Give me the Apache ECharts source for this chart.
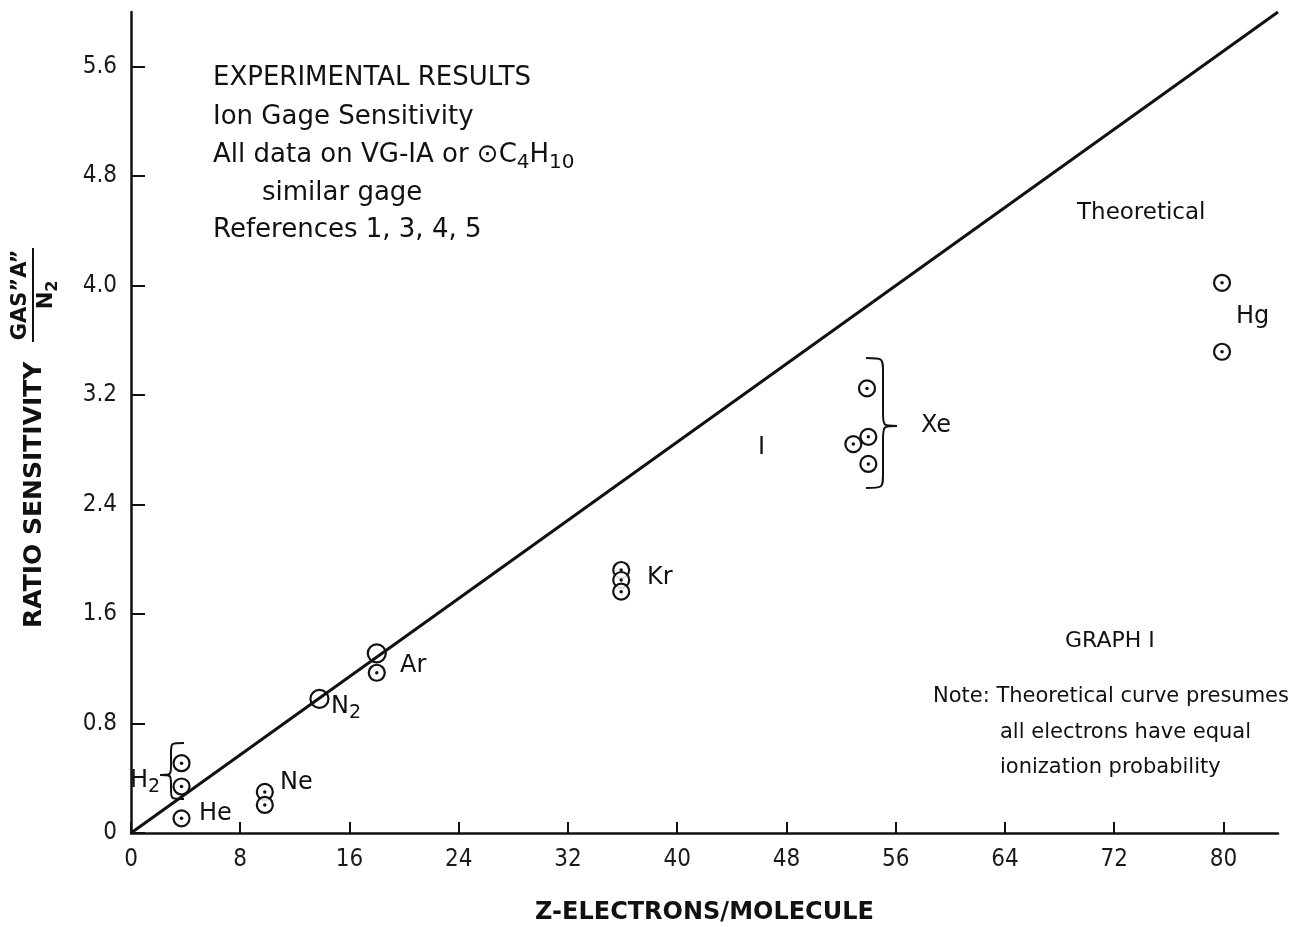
<!DOCTYPE html>
<html>
<head>
<meta charset="utf-8">
<script src="https://cdn.jsdelivr.net/npm/echarts@6/dist/echarts.min.js"></script>
<style>
  html, body { margin: 0; padding: 0; background: #fff; }
  #chart { width: 1308px; height: 927px; }
</style>
</head>
<body>
<div id="chart"></div>
<script>
// ---------- DATA ----------
const xTickValues = [0, 8, 16, 24, 32, 40, 48, 56, 64, 72, 80];
const yTickValues = [0, 0.8, 1.6, 2.4, 3.2, 4.0, 4.8, 5.6];
const yTickLabels = ['0', '0.8', '1.6', '2.4', '3.2', '4.0', '4.8', '5.6'];

// experimental points drawn as circle with centre dot
const gasH2 = [[3.7, 0.51], [3.7, 0.34]];
const gasHe = [[3.7, 0.107]];
const gasNe = [[9.8, 0.30], [9.8, 0.205]];
const gasAr = [[18.0, 1.171]];
const gasKr = [[35.9, 1.922], [35.9, 1.849], [35.9, 1.764]];
const gasXe = [[53.9, 3.249], [54.0, 2.895], [52.9, 2.842], [54.0, 2.697]];
const gasHg = [[79.9, 4.021], [79.9, 3.517]];
// experimental points drawn as plain circles
const plainPoints = [[13.8, 0.98], [18.0, 1.313]];
// theoretical line (all electrons equal ionization probability)
const theoretical = [[0, 0], [84, 6.0]];

const dotted = [].concat(gasH2, gasHe, gasNe, gasAr, gasKr, gasXe, gasHg);

// ---------- CHART ----------
const FONT = "'DejaVu Sans', Verdana, sans-serif";
const TICKFONT = "'DejaVu Sans Condensed', 'DejaVu Sans', sans-serif";
const chart = echarts.init(document.getElementById('chart'), null, { renderer: 'canvas' });

function txt(text, x, y, size) {
  return {
    type: 'text', x: x, y: y, silent: true,
    style: {
      text: text, fill: '#111', fontSize: size || 23, fontFamily: FONT,
      textAlign: 'left', textVerticalAlign: 'middle',
      align: 'left', verticalAlign: 'middle'
    }
  };
}
function richTxt(text, x, y, rich) {
  return {
    type: 'text', x: x, y: y, silent: true,
    style: { text: text, rich: rich, textAlign: 'left', textVerticalAlign: 'middle', align: 'left', verticalAlign: 'middle' }
  };
}
function mkRich(n, s, bold) {
  return {
    n: { fontSize: n, fontFamily: FONT, fontWeight: bold ? 'bold' : 'normal', lineHeight: Math.round(n * 1.35), fill: '#111', verticalAlign: 'middle' },
    s: { fontSize: s, fontFamily: FONT, fontWeight: bold ? 'bold' : 'normal', lineHeight: s, fill: '#111', verticalAlign: 'bottom' }
  };
}
// curly brace built from bezier curves and lines
function brace(xEnd, xStem, xTip, yTop, yTip, yBot, r) {
  const st = { fill: null, stroke: '#111', lineWidth: 2 };
  const b = function (x1, y1, x2, y2, cx1, cy1, cx2, cy2) {
    return { type: 'bezierCurve', silent: true, shape: { x1: x1, y1: y1, x2: x2, y2: y2, cpx1: cx1, cpy1: cy1, cpx2: cx2, cpy2: cy2 }, style: st };
  };
  const l = function (x1, y1, x2, y2) {
    return { type: 'line', silent: true, shape: { x1: x1, y1: y1, x2: x2, y2: y2 }, style: st };
  };
  return [
    b(xEnd, yTop, xStem, yTop + r, xStem, yTop, xStem, yTop),
    l(xStem, yTop + r, xStem, yTip - r),
    b(xStem, yTip - r, xTip, yTip, xStem, yTip, xStem, yTip),
    b(xTip, yTip, xStem, yTip + r, xStem, yTip, xStem, yTip),
    l(xStem, yTip + r, xStem, yBot - r),
    b(xStem, yBot - r, xEnd, yBot, xStem, yBot, xStem, yBot)
  ];
}

const graphics = [
  // y-axis title (rotated)
  {
    type: 'group', x: 34, y: 628, rotation: Math.PI / 2, silent: true,
    children: [
      { type: 'text', x: 0, y: 0, style: { text: 'RATIO SENSITIVITY', fontSize: 25, fontWeight: 'bold', fontFamily: FONT, fill: '#111', textAlign: 'left', textVerticalAlign: 'middle', align: 'left', verticalAlign: 'middle' } },
      { type: 'text', x: 333, y: -13, style: { text: 'GAS\u201DA\u201D', fontSize: 21, fontWeight: 'bold', fontFamily: FONT, fill: '#111', textAlign: 'center', textVerticalAlign: 'middle', align: 'center', verticalAlign: 'middle' } },
      { type: 'line', shape: { x1: 286, y1: -1, x2: 380, y2: -1 }, style: { stroke: '#111', lineWidth: 2 } },
      { type: 'text', x: 333, y: 13, style: { text: '{n|N}{s|2}', rich: mkRich(21, 16, true), textAlign: 'center', textVerticalAlign: 'middle', align: 'center', verticalAlign: 'middle' } }
    ]
  },
  // header block
  txt('EXPERIMENTAL RESULTS', 213, 78, 26),
  txt('Ion Gage Sensitivity', 213, 117, 26),
  richTxt('{n|All data on VG-IA or \u2299C}{s|4}{n|H}{s|10}', 213, 155, mkRich(26, 20, false)),
  txt('similar gage', 262, 193, 26),
  txt('References 1, 3, 4, 5', 213, 230, 26),
  txt('Theoretical', 1077, 213, 23),
  // gas labels
  txt('Hg', 1236, 317, 24),
  txt('Xe', 921, 426, 24),
  txt('I', 758, 448, 24),
  txt('Kr', 647, 578, 24),
  txt('Ar', 400, 666, 24),
  richTxt('{n|N}{s|2}', 331, 707, mkRich(24, 19, false)),
  txt('Ne', 280, 783, 24),
  richTxt('{n|H}{s|2}', 130, 781, mkRich(24, 19, false)),
  txt('He', 199, 814, 24),
  // notes
  txt('GRAPH I', 1065, 641, 22),
  txt('Note: Theoretical curve presumes', 933, 697, 21),
  txt('all electrons have equal', 1000, 733, 21),
  txt('ionization probability', 1000, 768, 21)
].concat(
  brace(866, 883, 897, 358, 426, 488, 14),
  brace(184, 171, 160, 743, 775, 799, 9)
);

const option = {
  backgroundColor: '#fff',
  animation: false,
  grid: { left: 131, right: 30, top: 12, bottom: 94, containLabel: false, outerBoundsMode: 'none' },
  xAxis: {
    type: 'value', min: 0, max: 84,
    axisLine: { show: true, onZero: false, lineStyle: { color: '#111', width: 2.5 } },
    axisTick: { show: true, inside: true, length: 11, customValues: xTickValues, lineStyle: { color: '#111', width: 2 } },
    axisLabel: { show: true, customValues: xTickValues, margin: 15, fontSize: 24, fontFamily: TICKFONT, color: '#1a1a1a' },
    splitLine: { show: false },
    name: 'Z-ELECTRONS/MOLECULE', nameLocation: 'middle', nameGap: 68,
    nameTextStyle: { fontSize: 24, fontWeight: 'bold', fontFamily: FONT, color: '#111' }
  },
  yAxis: {
    type: 'value', min: 0, max: 6.0,
    axisLine: { show: true, onZero: false, lineStyle: { color: '#111', width: 2.5 } },
    axisTick: { show: true, inside: true, length: 14, customValues: yTickValues, lineStyle: { color: '#111', width: 2 } },
    axisLabel: {
      show: true, customValues: yTickValues, margin: 14, fontSize: 24, fontFamily: TICKFONT, color: '#1a1a1a',
      formatter: function (v) {
        const i = yTickValues.findIndex(function (t) { return Math.abs(t - v) < 1e-6; });
        return i >= 0 ? yTickLabels[i] : '';
      }
    },
    splitLine: { show: false }
  },
  series: [
    {
      type: 'line', data: theoretical, symbol: 'none', silent: true,
      lineStyle: { color: '#111', width: 3 }, z: 2
    },
    {
      type: 'scatter', data: dotted, symbol: 'circle', symbolSize: 16, silent: true,
      itemStyle: { color: 'rgba(255,255,255,0.85)', borderColor: '#111', borderWidth: 2.2, opacity: 1 }, z: 3
    },
    {
      type: 'scatter', data: dotted, symbol: 'circle', symbolSize: 3.5, silent: true,
      itemStyle: { color: '#111', opacity: 1 }, z: 4
    },
    {
      type: 'scatter', data: plainPoints, symbol: 'circle', symbolSize: 18, silent: true,
      itemStyle: { color: 'rgba(255,255,255,0)', borderColor: '#111', borderWidth: 2.2, opacity: 1 }, z: 3
    }
  ],
  graphic: graphics
};
chart.setOption(option);
</script>
</body>
</html>
